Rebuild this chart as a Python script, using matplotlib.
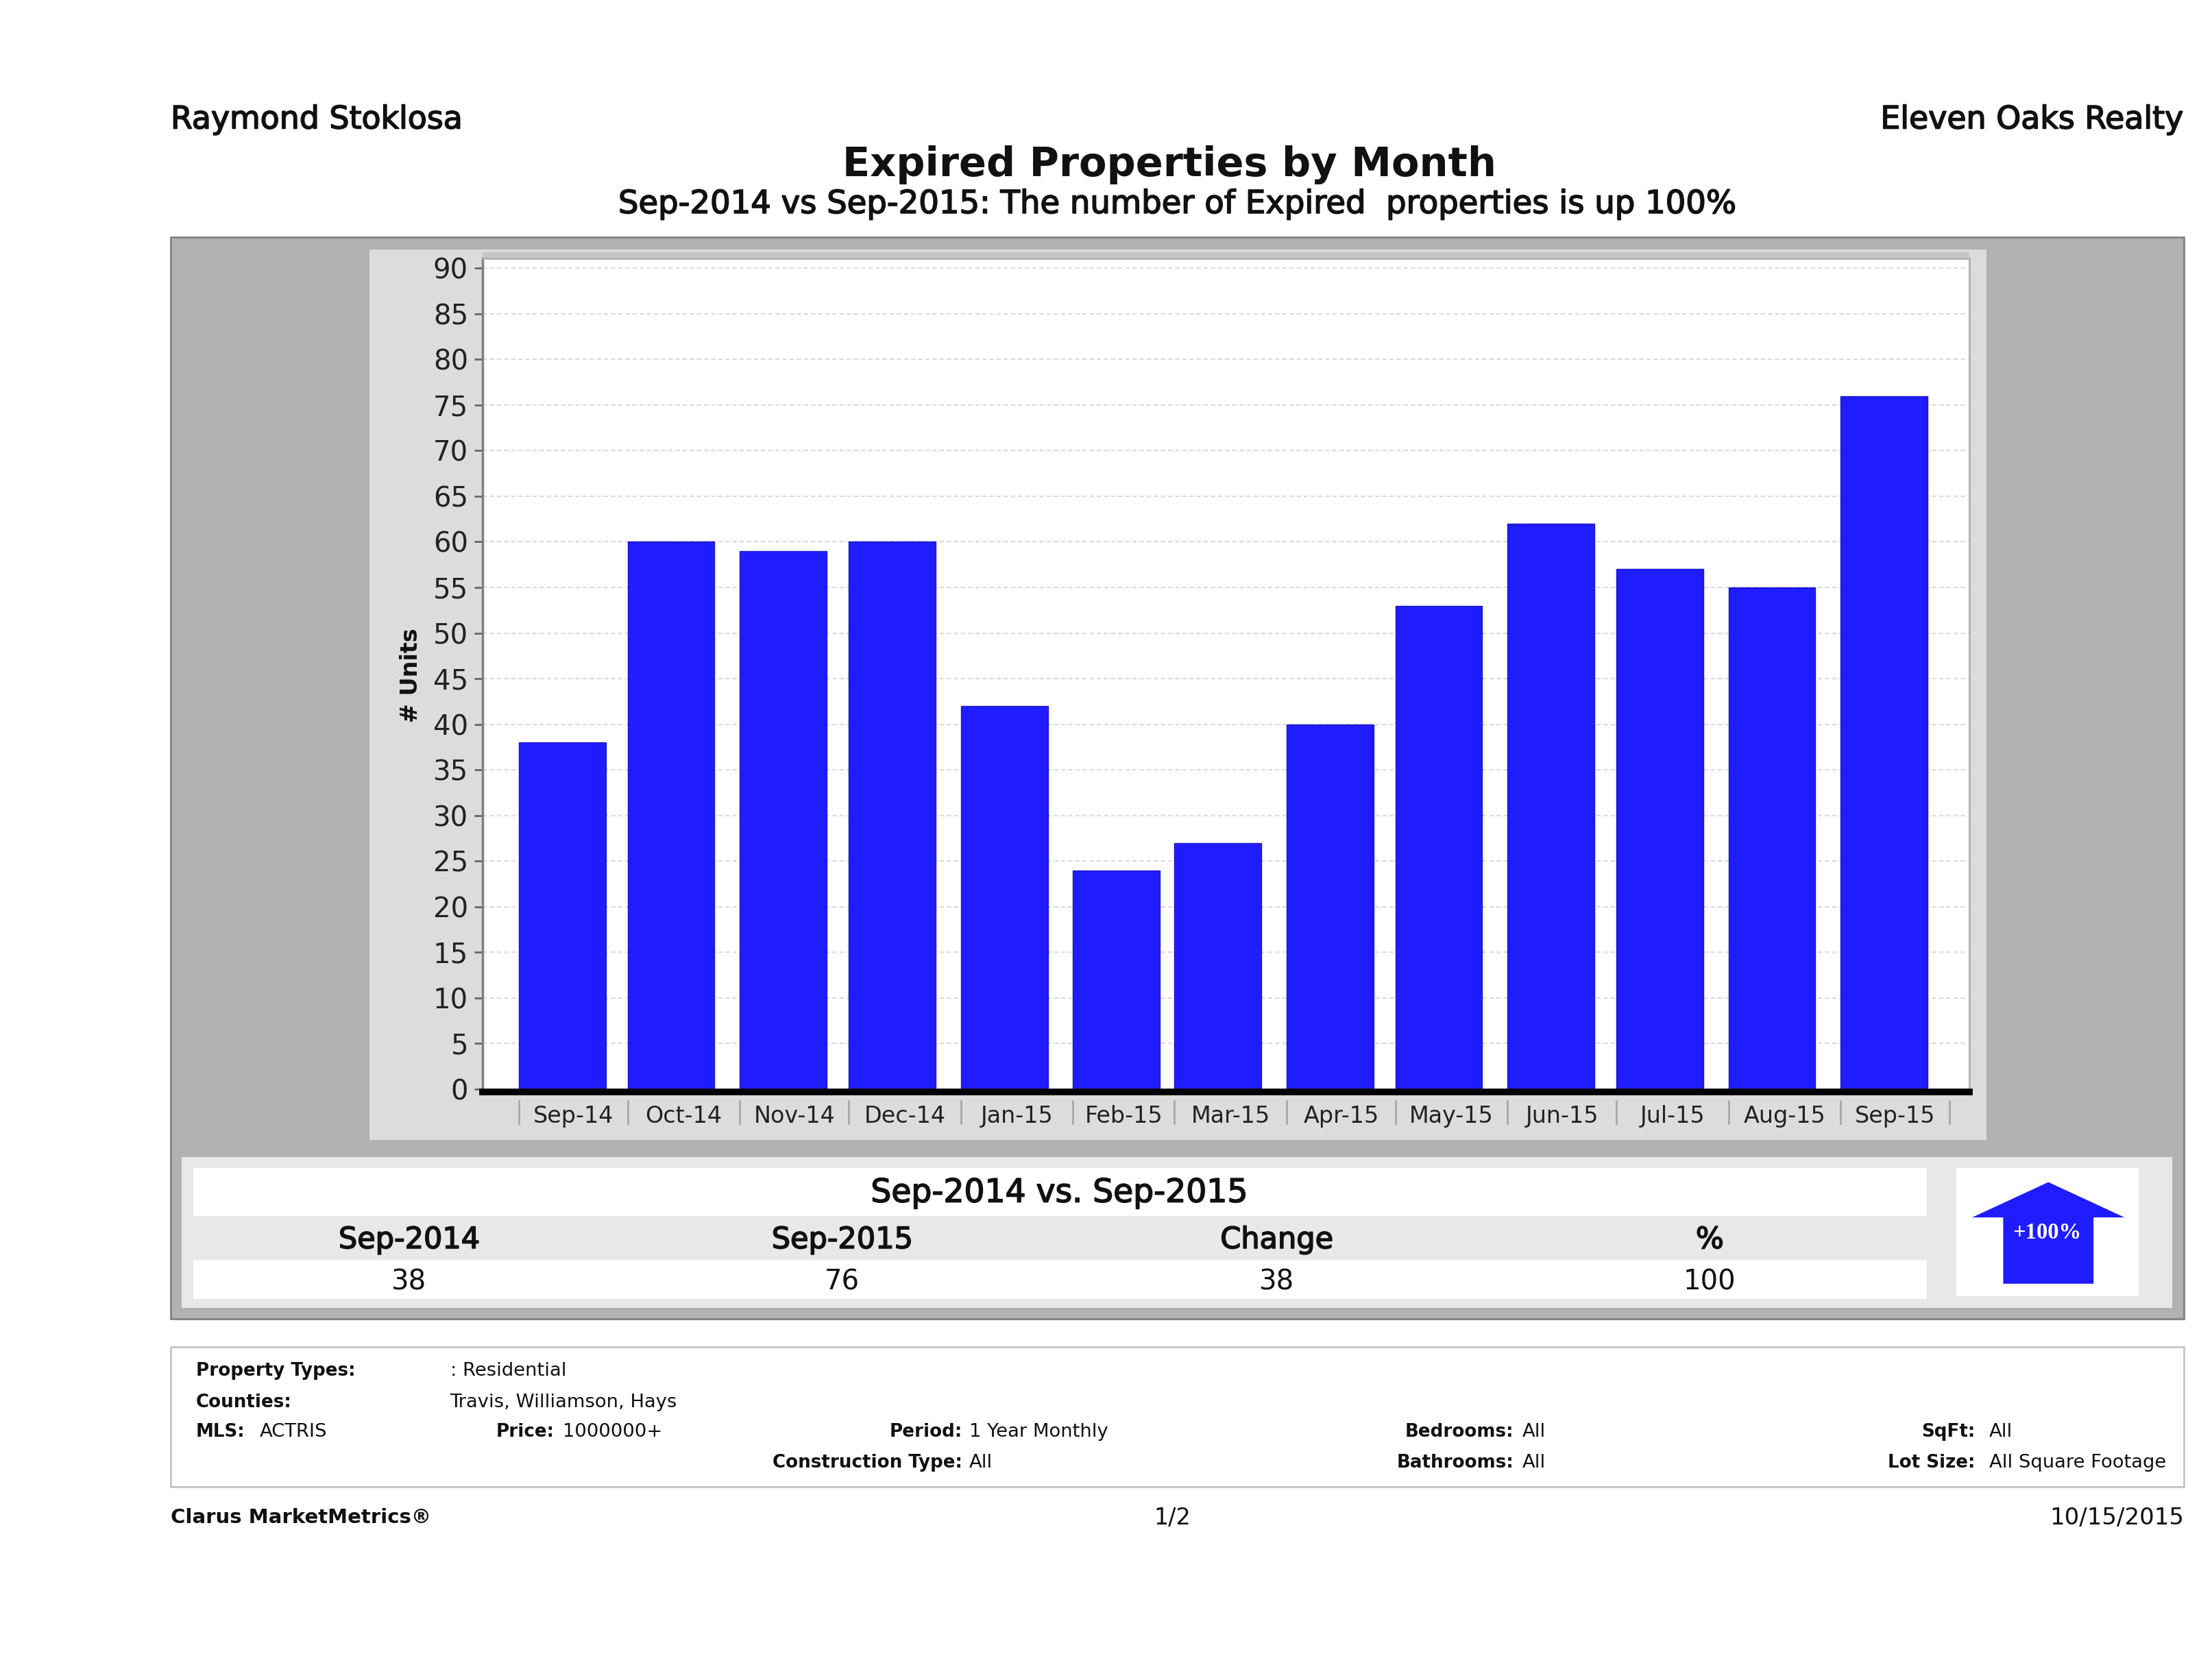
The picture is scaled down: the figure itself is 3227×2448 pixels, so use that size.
import matplotlib
matplotlib.use("Agg")
import matplotlib.pyplot as plt
import matplotlib.patheffects as pe
import pandas as pd
from matplotlib.patches import Rectangle, Polygon

month_starts = ["2014-09-01", "2014-10-01", "2014-11-01", "2014-12-01", "2015-01-01", "2015-02-01", "2015-03-01",
                "2015-04-01", "2015-05-01", "2015-06-01", "2015-07-01", "2015-08-01", "2015-09-01"]
months = ["Sep-14", "Oct-14", "Nov-14", "Dec-14", "Jan-15", "Feb-15", "Mar-15",
          "Apr-15", "May-15", "Jun-15", "Jul-15", "Aug-15", "Sep-15"]
units = [38, 60, 59, 60, 42, 24, 27, 40, 53, 62, 57, 55, 76]
y_ticks = list(range(0, 95, 5))

table_heads = ["Sep-2014", "Sep-2015", "Change", "%"]
table_vals = ["38", "76", "38", "100"]

BLUE = "#1f1cff"
W, H = 1568.0, 1189.5   # page layout is worked out in these units

plt.rcParams["font.family"] = ["DejaVu Sans"]

fig = plt.figure(figsize=(32.27, 24.48), dpi=100, facecolor="white")
page = fig.add_axes([0, 0, 1, 1])
page.set_xlim(0, W)
page.set_ylim(H, 0)
page.axis("off")


def box(x0, y0, x1, y1, color, edge="none", lw=0):
    page.add_patch(Rectangle((x0, y0), x1 - x0, y1 - y0, facecolor=color, edgecolor=edge, linewidth=lw))


def txt(x, y, s, size, ha="left", weight="normal", color="#111111", heavy=0, **kw):
    t = page.text(x, y, s, fontsize=size, ha=ha, va="center", fontweight=weight, color=color, **kw)
    if heavy:
        # the source font is a bit heavier than regular, thicken the strokes
        t.set_path_effects([pe.withStroke(linewidth=heavy, foreground=color)])


# -------- header --------
txt(121, 85, "Raymond Stoklosa", 33, heavy=1.2)
txt(1548, 85, "Eleven Oaks Realty", 33, ha="right", heavy=1.2)
txt(829, 117, "Expired Properties by Month", 42.5, ha="center", weight="bold")
txt(835, 145, "Sep-2014 vs Sep-2015: The number of Expired  properties is up 100%", 33.5, ha="center", heavy=1.2)

# -------- gray panels --------
box(121, 168, 1548, 935, "#b1b1b1", edge="#808080", lw=2)
box(262, 177, 1408, 808, "#dcdcdc")
box(342, 179, 1396, 183, "#c6c6c6")

# -------- chart --------
dates = pd.to_datetime(month_starts)
next_month = dates[-1] + pd.DateOffset(months=1)
edges = list(dates) + [next_month]
mids = [a + (b - a) / 2 for a, b in zip(edges[:-1], edges[1:])]

ax = fig.add_axes([342 / W, 1 - 774 / H, (1396 - 342) / W, (774 - 183) / H])
ax.set_xlim(dates[0] - pd.Timedelta(days=10.1), dates[0] + pd.Timedelta(days=400.5))
ax.set_ylim(-0.3, 91.1)
ax.set_axisbelow(True)
ax.yaxis.grid(True, color="#dadada", linestyle=(0, (3, 2)), linewidth=1.5)
ax.bar(dates, units, width=24, align="edge", color=BLUE, edgecolor="#1a18c8", linewidth=1)
ax.set_yticks(y_ticks)
ax.tick_params(axis="y", labelsize=29, length=9, width=2, color="#666666", labelcolor="#222222", pad=6)
ax.set_xticks(edges)
ax.set_xticklabels([])
ax.tick_params(axis="x", which="major", length=0)
ax.set_xticks(mids, labels=months, minor=True)
ax.tick_params(axis="x", which="minor", length=0, labelsize=24, labelcolor="#222222", pad=14)
ax.set_ylabel("# Units", fontsize=24, fontweight="bold", color="#111111", labelpad=11)
for side in ["top", "right"]:
    ax.spines[side].set_color("#b0b0b0")
    ax.spines[side].set_linewidth(2)
ax.spines["left"].set_color("#808080")
ax.spines["left"].set_linewidth(2.5)
ax.spines["bottom"].set_color("black")
ax.spines["bottom"].set_linewidth(7)
# separators under the axis
for d in edges:
    ax.plot([d, d], [-0.011, -0.038], color="#a8a8a8", linewidth=2,
            transform=ax.get_xaxis_transform(), clip_on=False)

# -------- summary table --------
box(129, 820, 1540, 927, "#e8e8e8")
box(137, 828, 1366, 862, "white")
box(137, 893, 1366, 921, "white")
box(1387, 828, 1516, 919, "white")
page.add_patch(Polygon([(1452, 838), (1506, 863), (1484, 863), (1484, 910), (1420, 910), (1420, 863), (1398, 863)],
                       facecolor=BLUE, edgecolor="none"))
txt(1451, 874, "+100%", 23.5, ha="center", weight="bold", color="white", family="Liberation Serif")
txt(751, 846, "Sep-2014 vs. Sep-2015", 34, ha="center", heavy=1.2)
for x, head, val in zip([290, 597, 905, 1212], table_heads, table_vals):
    txt(x, 879, head, 31, ha="center", heavy=1.2)
    txt(x, 909, val, 29, ha="center")

# -------- filter box --------
box(121, 955, 1548, 1054, "white", edge="#c4c4c4", lw=2)
txt(139, 972, "Property Types:", 18.8, weight="bold")
txt(319, 972, ": Residential", 19.7)
txt(139, 994, "Counties:", 18.8, weight="bold")
txt(319, 994, "Travis, Williamson, Hays", 19.7)
txt(139, 1015, "MLS:", 18.8, weight="bold")
txt(184, 1015, "ACTRIS", 19.7)
txt(393, 1015, "Price:", 18.8, ha="right", weight="bold")
txt(399, 1015, "1000000+", 19.7)
txt(682, 1015, "Period:", 18.8, ha="right", weight="bold")
txt(687, 1015, "1 Year Monthly", 19.7)
txt(1073, 1015, "Bedrooms:", 18.8, ha="right", weight="bold")
txt(1079, 1015, "All", 19.7)
txt(1400, 1015, "SqFt:", 18.8, ha="right", weight="bold")
txt(1410, 1015, "All", 19.7)
txt(682, 1037, "Construction Type:", 18.8, ha="right", weight="bold")
txt(687, 1037, "All", 19.7)
txt(1073, 1037, "Bathrooms:", 18.8, ha="right", weight="bold")
txt(1079, 1037, "All", 19.7)
txt(1400, 1037, "Lot Size:", 18.8, ha="right", weight="bold")
txt(1410, 1037, "All Square Footage", 19.7)

# -------- footer --------
txt(121, 1076, "Clarus MarketMetrics®", 21, weight="bold")
txt(831, 1076, "1/2", 24, ha="center")
txt(1548, 1076, "10/15/2015", 24.5, ha="right")

fig.savefig("out.png", dpi=100)
